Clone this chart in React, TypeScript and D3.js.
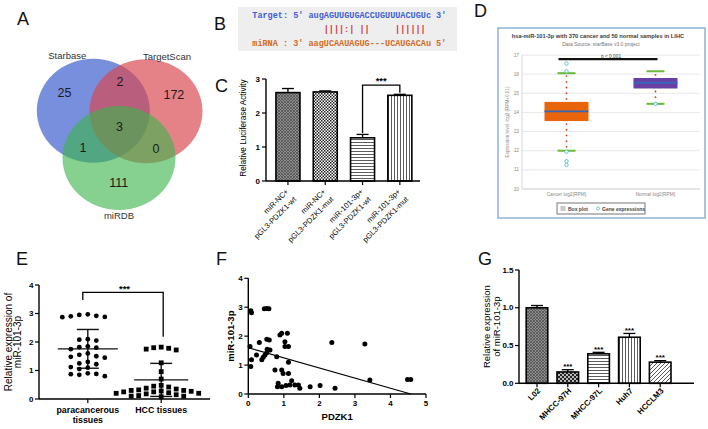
import React from 'react';
import * as d3 from 'd3';

const FONT = "'Liberation Sans', Arial, Helvetica, sans-serif";

// ---------- Panel A (Venn) ----------
const vennNames = ['Starbase', 'TargetScan', 'miRDB'];
const vennOnly = [25, 172, 111];
const vennPairs = [2, 0, 1]; // S∩T, T∩M, S∩M
const vennAll = 3;
const vennColors = ['#3f5fcf', '#d9474f', '#3cb44b'];

// ---------- Panel B (alignment) ----------
const bTarget = "Target: 5' augAGUUGUGACCUGUUUACUGUc 3'";
const bPairs = '              ||||:| ||     ||||||';
const bMirna = "miRNA : 3' aagUCAAUAGUG---UCAUGACAu 5'";

// ---------- Panel C (luciferase) ----------
const cCategories = [
  ['miR-NC+', 'pGL3-PDZK1-wt'],
  ['miR-NC+', 'pGL3-PDZK1-mut'],
  ['miR-101-3p+', 'pGL3-PDZK1-wt'],
  ['miR-101-3p+', 'pGL3-PDZK1-mut'],
];
const cValues = [2.6, 2.62, 1.27, 2.52];
const cErrors = [0.12, 0.03, 0.1, 0.03];
const cPatterns = ['pGray', 'pChecker', 'pH', 'pV'];
const cTicks = [0, 1, 2, 3];

// ---------- Panel D (starBase box plot) ----------
const dGroups = ['Cancer log2(RPM)', 'Normal log2(RPM)'];
const dQ1 = [13.55, 15.25];
const dMedian = [14.05, 15.55];
const dQ3 = [14.55, 15.8];
const dLow = [12.0, 14.45];
const dHigh = [16.05, 16.15];
const dOutliers = [[16.55, 16.15, 11.95, 11.45, 11.25], [14.45]];
const dBoxColors = ['#e8650c', '#6a3fa3'];
const dTicks = [10, 11, 12, 13, 14, 15, 16, 17];

// ---------- Panel E (tissue scatter) ----------
const eCategories = [['paracancerous', 'tissues'], ['HCC tissues']];
const eParacancerous = [2.95, 2.9, 2.88, 2.97, 2.87, 2.92, 2.1, 2.08, 2.05, 1.85, 1.8, 1.82, 1.75, 1.6, 1.55, 1.5, 1.48, 1.45, 1.3, 1.25, 1.22, 1.12, 1.1, 1.05, 0.9, 0.88, 0.87, 0.85, 0.8];
const eHCC = [1.82, 1.8, 1.78, 1.75, 1.72, 1.27, 0.96, 0.7, 0.48, 0.45, 0.42, 0.38, 0.35, 0.32, 0.3, 0.3, 0.28, 0.27, 0.25, 0.25, 0.22, 0.2, 0.2, 0.18, 0.15, 0.12, 0.1, 0.1, 0.08];
const eMeans = [1.76, 0.67];
const eSD = [0.68, 0.58];
const eTicks = [0, 1, 2, 3, 4];

// ---------- Panel F (correlation) ----------
const fX = [0.07, 0.09, 0.05, 0.07, 0.09, 0.45, 0.52, 0.58, 0.31, 0.23, 0.38, 0.42, 0.47, 0.52, 0.53, 0.52, 0.59, 0.61, 0.8, 0.75, 0.94, 0.98, 1.13, 0.89, 0.94, 1.1, 1.03, 1.03, 1.13, 1.13, 0.84, 0.82, 0.94, 1.06, 1.17, 1.22, 1.31, 1.41, 1.45, 1.74, 2.02, 2.35, 2.44, 3.28, 3.42, 4.48, 4.57];
const fY = [2.88, 2.81, 1.64, 0.95, 1.18, 2.95, 2.96, 2.95, 1.78, 1.35, 1.18, 1.27, 1.35, 1.43, 1.55, 1.89, 1.87, 1.52, 1.29, 0.83, 0.83, 0.71, 0.71, 2.04, 2.1, 2.1, 1.81, 1.64, 1.64, 1.1, 0.37, 0.25, 0.25, 0.29, 0.31, 0.46, 0.31, 0.31, 0.2, 0.25, 0.29, 1.78, 0.2, 1.73, 0.48, 0.5, 0.5];
const fIntercept = 1.6;
const fSlope = -0.35;
const fXTicks = [0, 1, 2, 3, 4, 5];
const fYTicks = [0, 1, 2, 3, 4];

// ---------- Panel G (cell lines) ----------
const gCategories = ['L02', 'MHCC-97H', 'MHCC-97L', 'Huh7', 'HCCLM3'];
const gValues = [1.0, 0.15, 0.39, 0.61, 0.28];
const gErrors = [0.03, 0.03, 0.02, 0.05, 0.02];
const gSig = ['', '***', '***', '***', '***'];
const gPatterns = ['pGray', 'pChecker2', 'pH', 'pV', 'pD'];
const gTicks = [0, 0.5, 1.0, 1.5];

function swarm(values: number[], y: (v: number) => number, cx: number, size: number, step: number, square: boolean) {
  const placed: { x: number; y: number }[] = [];
  const order = values.map((_, i) => i).sort((a, b) => values[b] - values[a]);
  const out: { x: number; y: number }[] = new Array(values.length);
  for (const i of order) {
    const py = y(values[i]);
    for (let k = 0; k < 30; k++) {
      const off = k === 0 ? 0 : (k % 2 === 1 ? -Math.ceil(k / 2) : Math.ceil(k / 2)) * step;
      const px = cx + off;
      const ok = placed.every((p) =>
        square ? Math.abs(p.x - px) >= size + 0.4 || Math.abs(p.y - py) >= size + 0.4 : Math.hypot(p.x - px, p.y - py) >= size + 0.4
      );
      if (ok) {
        placed.push({ x: px, y: py });
        out[i] = { x: px, y: py };
        break;
      }
    }
  }
  return out;
}

function Patterns() {
  return (
    <defs>
      <pattern id="pGray" width="3" height="3" patternUnits="userSpaceOnUse">
        <rect width="3" height="3" fill="#8c8c8c" />
        <path d="M0,0L3,3M3,0L0,3" stroke="#4a4a4a" strokeWidth="0.7" />
      </pattern>
      <pattern id="pChecker" width="3" height="3" patternUnits="userSpaceOnUse">
        <rect width="3" height="3" fill="#fff" />
        <rect width="1.5" height="1.5" fill="#222" />
        <rect x="1.5" y="1.5" width="1.5" height="1.5" fill="#222" />
      </pattern>
      <pattern id="pChecker2" width="4" height="4" patternUnits="userSpaceOnUse">
        <rect width="4" height="4" fill="#222" />
        <circle cx="1" cy="1" r="0.9" fill="#fff" />
        <circle cx="3" cy="3" r="0.9" fill="#fff" />
      </pattern>
      <pattern id="pH" width="4" height="3" patternUnits="userSpaceOnUse">
        <rect width="4" height="3" fill="#fff" />
        <line x1="0" x2="4" y1="1.5" y2="1.5" stroke="#333" strokeWidth="0.8" />
      </pattern>
      <pattern id="pV" width="3" height="4" patternUnits="userSpaceOnUse">
        <rect width="3" height="4" fill="#fff" />
        <line x1="1.5" x2="1.5" y1="0" y2="4" stroke="#333" strokeWidth="0.8" />
      </pattern>
      <pattern id="pD" width="4" height="4" patternUnits="userSpaceOnUse">
        <rect width="4" height="4" fill="#fff" />
        <path d="M-1,1L1,-1M0,4L4,0M3,5L5,3" stroke="#333" strokeWidth="0.8" />
      </pattern>
    </defs>
  );
}

function Letter({ x, y, t }: { x: number; y: number; t: string }) {
  return (
    <text x={x} y={y} fontSize={18} fill="#111">
      {t}
    </text>
  );
}

function PanelA() {
  const centers: [number, number][] = [[93.3, 110.8], [146, 111.3], [119, 158]];
  const rx = 56.5, ry = 52;
  const cen: [number, number] = [
    d3.mean(centers, (c) => c[0]) as number,
    d3.mean(centers, (c) => c[1]) as number,
  ];
  const kOnly = [1.1, 1.05, 0.8];
  const onlyPos = centers.map((c, i) => [c[0] + (c[0] - cen[0]) * kOnly[i], c[1] + (c[1] - cen[1]) * kOnly[i]]);
  const pairIdx = [[0, 1, 2], [1, 2, 0], [0, 2, 1]];
  const kPair = [0.62, 0.6, 0.58];
  const pairPos = pairIdx.map(([a, b, c], i) => {
    const m = [(centers[a][0] + centers[b][0]) / 2, (centers[a][1] + centers[b][1]) / 2];
    return [m[0] + (m[0] - centers[c][0]) * kPair[i], m[1] + (m[1] - centers[c][1]) * kPair[i]];
  });
  const nameOff = [[-26, -ry - 3], [21, -ry - 3], [0, ry + 5]];
  const opac = [0.7, 0.68, 0.62];
  return (
    <g>
      {centers.map((c, i) => (
        <ellipse key={i} cx={c[0]} cy={c[1]} rx={rx} ry={ry} fill={vennColors[i]} fillOpacity={opac[i]} />
      ))}
      {vennNames.map((n, i) => (
        <text key={n} x={centers[i][0] + nameOff[i][0]} y={centers[i][1] + nameOff[i][1]} fontSize={9.5} fill="#333" textAnchor="middle" dominantBaseline="central">
          {n}
        </text>
      ))}
      {vennOnly.map((v, i) => (
        <text key={'o' + i} x={onlyPos[i][0]} y={onlyPos[i][1]} fontSize={12.5} fill="#1a1a1a" textAnchor="middle" dominantBaseline="central">
          {v}
        </text>
      ))}
      {vennPairs.map((v, i) => (
        <text key={'p' + i} x={pairPos[i][0]} y={pairPos[i][1]} fontSize={12.5} fill="#1a1a1a" textAnchor="middle" dominantBaseline="central">
          {v}
        </text>
      ))}
      <text x={cen[0]} y={cen[1]} fontSize={12.5} fill="#1a1a1a" textAnchor="middle" dominantBaseline="central">
        {vennAll}
      </text>
    </g>
  );
}

function PanelB() {
  const mono = "'Liberation Mono', 'DejaVu Sans Mono', monospace";
  return (
    <g fontFamily={mono} fontSize={8.5} fontWeight="bold" style={{ whiteSpace: 'pre' }}>
      <rect x={238} y={7} width={219} height={44} fill="#eeeeee" />
      <text x={252.3} y={17.8} fill="#3d5fd8" textLength={194} lengthAdjust="spacing">{bTarget}</text>
      <text x={252.3} y={31.5} fill="#cc3b3b" xmlSpace="preserve">{bPairs}</text>
      <text x={252.3} y={46} fill="#d36b1f" textLength={194} lengthAdjust="spacing">{bMirna}</text>
    </g>
  );
}

function PanelC() {
  const y = d3.scaleLinear().domain([0, 3]).range([181, 79]);
  const x = d3.scalePoint<number>().domain(cValues.map((_, i) => i)).range([269.3, 418.5]).padding(0.5);
  const bw = 24;
  const ax = 266;
  return (
    <g>
      {cValues.map((v, i) => {
        const cx = x(i) as number;
        const top = y(v + cErrors[i]);
        return (
          <g key={i}>
            <line x1={cx} x2={cx} y1={y(v)} y2={top} stroke="#000" strokeWidth={1.3} />
            <line x1={cx - 6} x2={cx + 6} y1={top} y2={top} stroke="#000" strokeWidth={1.3} />
            <rect x={cx - bw / 2} y={y(v)} width={bw} height={y(0) - y(v)} fill={`url(#${cPatterns[i]})`} stroke="#000" strokeWidth={1.6} />
          </g>
        );
      })}
      <line x1={ax} x2={ax} y1={y(3)} y2={y(0)} stroke="#000" strokeWidth={1.4} />
      <line x1={ax} x2={420} y1={y(0)} y2={y(0)} stroke="#000" strokeWidth={1.4} />
      {cTicks.map((t) => (
        <g key={t}>
          <line x1={ax - 4} x2={ax} y1={y(t)} y2={y(t)} stroke="#000" strokeWidth={1.2} />
          <text x={ax - 6} y={y(t)} fontSize={8} fontWeight="bold" textAnchor="end" dominantBaseline="central">{t}</text>
        </g>
      ))}
      {cCategories.map((lines, i) => {
        const cx = x(i) as number;
        return (
          <g key={i}>
            <line x1={cx} x2={cx} y1={y(0)} y2={y(0) + 4} stroke="#000" strokeWidth={1.2} />
            <text transform={`translate(${cx + 1},${y(0) + 11}) rotate(-45)`} fontSize={7.6} textAnchor="end">
              <tspan x={0} dy={0}>{lines[0]}</tspan>
              <tspan x={0} dy={11}>{lines[1]}</tspan>
            </text>
          </g>
        );
      })}
      <text transform={`translate(246,${(y(0) + y(3)) / 2 - 2}) rotate(-90)`} fontSize={8.2} textAnchor="middle">Relative Luciferase Activity</text>
      {(() => {
        const x1 = x(2) as number, x2 = x(3) as number;
        const yt = y(2.82);
        return (
          <g>
            <path d={`M${x1},${y(cValues[2] + cErrors[2]) - 1.5}V${yt}H${x2}V${y(cValues[3] + cErrors[3]) - 1.5}`} fill="none" stroke="#000" strokeWidth={1.3} />
            <text x={(x1 + x2) / 2} y={yt - 1.5} fontSize={9.5} fontWeight="bold" textAnchor="middle">***</text>
          </g>
        );
      })()}
    </g>
  );
}

function PanelD() {
  const y = d3.scaleLinear().domain([10, 17]).range([189, 55]);
  const x = d3.scaleBand<string>().domain(dGroups).range([522, 700]);
  const bw = 44;
  return (
    <g>
      <rect x={498} y={28} width={207} height={190} fill="#fff" stroke="#8db3dc" strokeWidth={1.5} />
      <text x={598} y={37.6} textAnchor="middle" fontWeight="bold" fontSize={5.7} fill="#3a3a3a">
        hsa-miR-101-3p with 370 cancer and 50 normal samples in LIHC
      </text>
      <text x={601} y={46} textAnchor="middle" fontSize={5} fill="#777">Data Source: starBase v3.0 project</text>
      {dTicks.map((t) => (
        <g key={t}>
          <line x1={522} x2={700} y1={y(t)} y2={y(t)} stroke={t === 10 ? '#bbb' : '#e2e2e2'} strokeWidth={0.8} />
          <text x={519} y={y(t)} fontSize={4.8} fill="#888" textAnchor="end" dominantBaseline="central">{t}</text>
        </g>
      ))}
      <line x1={522} x2={522} y1={y(17)} y2={y(10)} stroke="#ccc" strokeWidth={0.8} />
      <text transform={`translate(509,${y(13.5)}) rotate(-90)`} fontSize={4.6} fill="#888" textAnchor="middle">Expression level: log2 (RPM+0.01)</text>
      {dGroups.map((g, i) => {
        const cx = (x(g) as number) + x.bandwidth() / 2;
        return (
          <g key={g}>
            <line x1={cx} x2={cx} y1={y(dQ3[i])} y2={y(dHigh[i])} stroke="#d0401c" strokeWidth={1.8} strokeLinecap="round" strokeDasharray="0 5.7" strokeDashoffset={-3} />
            <line x1={cx} x2={cx} y1={y(dQ1[i])} y2={y(dLow[i])} stroke="#d0401c" strokeWidth={1.8} strokeLinecap="round" strokeDasharray="0 5.7" strokeDashoffset={-3} />
            <rect x={cx - bw / 2} y={y(dQ3[i])} width={bw} height={y(dQ1[i]) - y(dQ3[i])} fill={dBoxColors[i]} />
            <line x1={cx - bw / 2} x2={cx + bw / 2} y1={y(dMedian[i])} y2={y(dMedian[i])} stroke="#3568b8" strokeWidth={1.8} />
            <line x1={cx - 9} x2={cx + 9} y1={y(dHigh[i])} y2={y(dHigh[i])} stroke="#69b934" strokeWidth={2} />
            <line x1={cx - 9} x2={cx + 9} y1={y(dLow[i])} y2={y(dLow[i])} stroke="#69b934" strokeWidth={2} />
            {dOutliers[i].map((o, j) => (
              <circle key={j} cx={cx} cy={y(o)} r={1.7} fill="#fff" stroke="#5cc3dc" strokeWidth={1} />
            ))}
            <text x={cx} y={196} fontSize={4.8} fill="#888" textAnchor="middle">{g}</text>
          </g>
        );
      })}
      {(() => {
        const c0 = (x(dGroups[0]) as number) + x.bandwidth() / 2;
        const c1 = (x(dGroups[1]) as number) + x.bandwidth() / 2;
        return (
          <g>
            <line x1={c0 - 8} x2={c1 + 2} y1={y(16.78)} y2={y(16.78)} stroke="#111" strokeWidth={2.2} />
            <text x={(c0 + c1) / 2} y={y(16.83)} fontSize={4.8} fill="#444" textAnchor="middle">p &lt; 0.001</text>
          </g>
        );
      })()}
      <rect x={557} y={203} width={88} height={11} fill="#fff" stroke="#777" strokeWidth={1} />
      <rect x={560.5} y={206} width={5} height={5} fill="#c8c8c8" />
      <text x={568} y={210.5} fontSize={5} fontWeight="bold" fill="#444">Box plot</text>
      <circle cx={598} cy={208.5} r={1.5} fill="#fff" stroke="#5cc3dc" strokeWidth={0.9} />
      <text x={602} y={210.5} fontSize={5} fontWeight="bold" fill="#444">Gene expressions</text>
    </g>
  );
}

function PanelE() {
  const y = d3.scaleLinear().domain([0, 4]).range([399, 285]);
  const x = d3.scalePoint<number>().domain([0, 1]).range([39, 210]).padding(0.665);
  const ax = 39;
  const c0 = x(0) as number, c1 = x(1) as number;
  const para = swarm(eParacancerous, y, c0, 4.8, 8.5, false);
  const hcc = swarm(eHCC, y, c1, 4.8, 7.5, true);
  const meanHalf = [30, 27];
  const capHalf = [11, 11];
  return (
    <g>
      <line x1={ax} x2={ax} y1={y(4)} y2={y(0)} stroke="#000" strokeWidth={1.4} />
      <line x1={ax} x2={210} y1={y(0)} y2={y(0)} stroke="#000" strokeWidth={1.4} />
      {eTicks.map((t) => (
        <g key={t}>
          <line x1={ax - 4} x2={ax} y1={y(t)} y2={y(t)} stroke="#000" strokeWidth={1.2} />
          <text x={ax - 5.5} y={y(t)} fontSize={8} fontWeight="bold" textAnchor="end" dominantBaseline="central">{t}</text>
        </g>
      ))}
      {eCategories.map((lines, i) => {
        const cx = x(i) as number;
        return (
          <g key={i}>
            <line x1={cx} x2={cx} y1={y(0)} y2={y(0) + 4} stroke="#000" strokeWidth={1.2} />
            <text x={cx} y={413} fontSize={8.8} fontWeight="bold" textAnchor="middle">
              {lines.map((l, j) => (
                <tspan key={j} x={cx} dy={j === 0 ? 0 : 10}>{l}</tspan>
              ))}
            </text>
          </g>
        );
      })}
      {eMeans.map((m, i) => {
        const cx = x(i) as number;
        return (
          <g key={i} stroke="#111" strokeWidth={1.4}>
            <line x1={cx - meanHalf[i]} x2={cx + meanHalf[i]} y1={y(m)} y2={y(m)} />
            <line x1={cx} x2={cx} y1={y(m + eSD[i])} y2={y(Math.max(0, m - eSD[i]))} />
            <line x1={cx - capHalf[i]} x2={cx + capHalf[i]} y1={y(m + eSD[i])} y2={y(m + eSD[i])} />
            <line x1={cx - capHalf[i]} x2={cx + capHalf[i]} y1={y(m - eSD[i])} y2={y(m - eSD[i])} />
          </g>
        );
      })}
      {para.map((p, i) => (
        <circle key={i} cx={p.x} cy={p.y} r={2.4} fill="#000" />
      ))}
      {hcc.map((p, i) => (
        <rect key={i} x={p.x - 2.4} y={p.y - 2.4} width={4.8} height={4.8} fill="#000" />
      ))}
      <path d={`M${c0 - 5},${y(3.47)}V${y(3.74)}H${c1 + 2}V${y(2.18)}`} fill="none" stroke="#000" strokeWidth={1.3} />
      <text x={(c0 + c1) / 2} y={y(3.76)} fontSize={9.5} fontWeight="bold" textAnchor="middle">***</text>
      <text transform={`translate(12,342) rotate(-90)`} fontSize={10} textAnchor="middle">Relative expression of</text>
      <text transform={`translate(21,342) rotate(-90)`} fontSize={10} textAnchor="middle">miR-101-3p</text>
    </g>
  );
}

function PanelF() {
  const x = d3.scaleLinear().domain([0, 5]).range([248.3, 426]);
  const y = d3.scaleLinear().domain([0, 4]).range([394, 278.3]);
  const xEnd = -fIntercept / fSlope;
  const line = d3.line<number>().x((d) => x(d)).y((d) => y(fIntercept + fSlope * d));
  return (
    <g>
      <line x1={x(0)} x2={x(0)} y1={y(4)} y2={y(0)} stroke="#000" strokeWidth={1.4} />
      <line x1={x(0)} x2={x(5)} y1={y(0)} y2={y(0)} stroke="#000" strokeWidth={1.4} />
      {fYTicks.map((t) => (
        <g key={t}>
          <line x1={x(0) - 4} x2={x(0)} y1={y(t)} y2={y(t)} stroke="#000" strokeWidth={1.2} />
          <text x={x(0) - 5.5} y={y(t)} fontSize={8} fontWeight="bold" textAnchor="end" dominantBaseline="central">{t}</text>
        </g>
      ))}
      {fXTicks.map((t) => (
        <g key={t}>
          <line x1={x(t)} x2={x(t)} y1={y(0)} y2={y(0) + 4} stroke="#000" strokeWidth={1.2} />
          <text x={x(t)} y={y(0) + 12} fontSize={8} fontWeight="bold" textAnchor="middle">{t}</text>
        </g>
      ))}
      <path d={line([0, xEnd]) || ''} fill="none" stroke="#000" strokeWidth={1.2} />
      {fX.map((v, i) => (
        <circle key={i} cx={x(v)} cy={y(fY[i])} r={2.5} fill="#000" />
      ))}
      <text x={(x(0) + x(5)) / 2} y={420} fontSize={9.5} fontWeight="bold" textAnchor="middle">PDZK1</text>
      <text transform={`translate(233.5,${(y(0) + y(4)) / 2}) rotate(-90)`} fontSize={9.5} fontWeight="bold" textAnchor="middle">miR-101-3p</text>
    </g>
  );
}

function PanelG() {
  const y = d3.scaleLinear().domain([0, 1.5]).range([383.3, 270]);
  const x = d3.scalePoint<string>().domain(gCategories).range([521.6, 675.6]).padding(0.5);
  const ax = 519;
  const bw = 21.6;
  return (
    <g>
      {gValues.map((v, i) => {
        const cx = x(gCategories[i]) as number;
        const top = y(v + gErrors[i]);
        return (
          <g key={i}>
            <line x1={cx} x2={cx} y1={y(v)} y2={top} stroke="#000" strokeWidth={1.3} />
            <line x1={cx - 6} x2={cx + 6} y1={top} y2={top} stroke="#000" strokeWidth={1.3} />
            <rect x={cx - bw / 2} y={y(v)} width={bw} height={y(0) - y(v)} fill={`url(#${gPatterns[i]})`} stroke="#000" strokeWidth={1.6} />
            {gSig[i] && (
              <text x={cx} y={top - 0.5} fontSize={8} fontWeight="bold" textAnchor="middle">{gSig[i]}</text>
            )}
          </g>
        );
      })}
      <line x1={ax} x2={ax} y1={y(1.5)} y2={y(0)} stroke="#000" strokeWidth={1.4} />
      <line x1={ax} x2={694} y1={y(0)} y2={y(0)} stroke="#000" strokeWidth={1.4} />
      {gTicks.map((t) => (
        <g key={t}>
          <line x1={ax - 4} x2={ax} y1={y(t)} y2={y(t)} stroke="#000" strokeWidth={1.2} />
          <text x={ax - 5.5} y={y(t)} fontSize={8} fontWeight="bold" textAnchor="end" dominantBaseline="central">{d3.format('.1f')(t)}</text>
        </g>
      ))}
      {gCategories.map((c) => {
        const cx = x(c) as number;
        return (
          <g key={c}>
            <line x1={cx} x2={cx} y1={y(0)} y2={y(0) + 4} stroke="#000" strokeWidth={1.2} />
            <text transform={`translate(${cx + 4},${y(0) + 8}) rotate(-45)`} fontSize={8} fontWeight="bold" textAnchor="end">{c}</text>
          </g>
        );
      })}
      <text transform={`translate(490,${(y(0) + y(1.5)) / 2}) rotate(-90)`} fontSize={9.5} textAnchor="middle">Relative expression</text>
      <text transform={`translate(500,${(y(0) + y(1.5)) / 2}) rotate(-90)`} fontSize={9.5} textAnchor="middle">of miR-101-3p</text>
    </g>
  );
}

export default function App() {
  return (
    <svg width={708} height={429} viewBox="0 0 708 429" fontFamily={FONT} style={{ position: 'absolute', left: 0, top: 0, background: '#fff' }}>
      <Patterns />
      <rect width={708} height={429} fill="#fff" />
      <Letter x={17} y={25} t="A" />
      <Letter x={214} y={30} t="B" />
      <Letter x={215} y={92} t="C" />
      <Letter x={474} y={17} t="D" />
      <Letter x={16} y={265} t="E" />
      <Letter x={216} y={265} t="F" />
      <Letter x={478} y={265} t="G" />
      <PanelA />
      <PanelB />
      <PanelC />
      <PanelD />
      <PanelE />
      <PanelF />
      <PanelG />
    </svg>
  );
}
